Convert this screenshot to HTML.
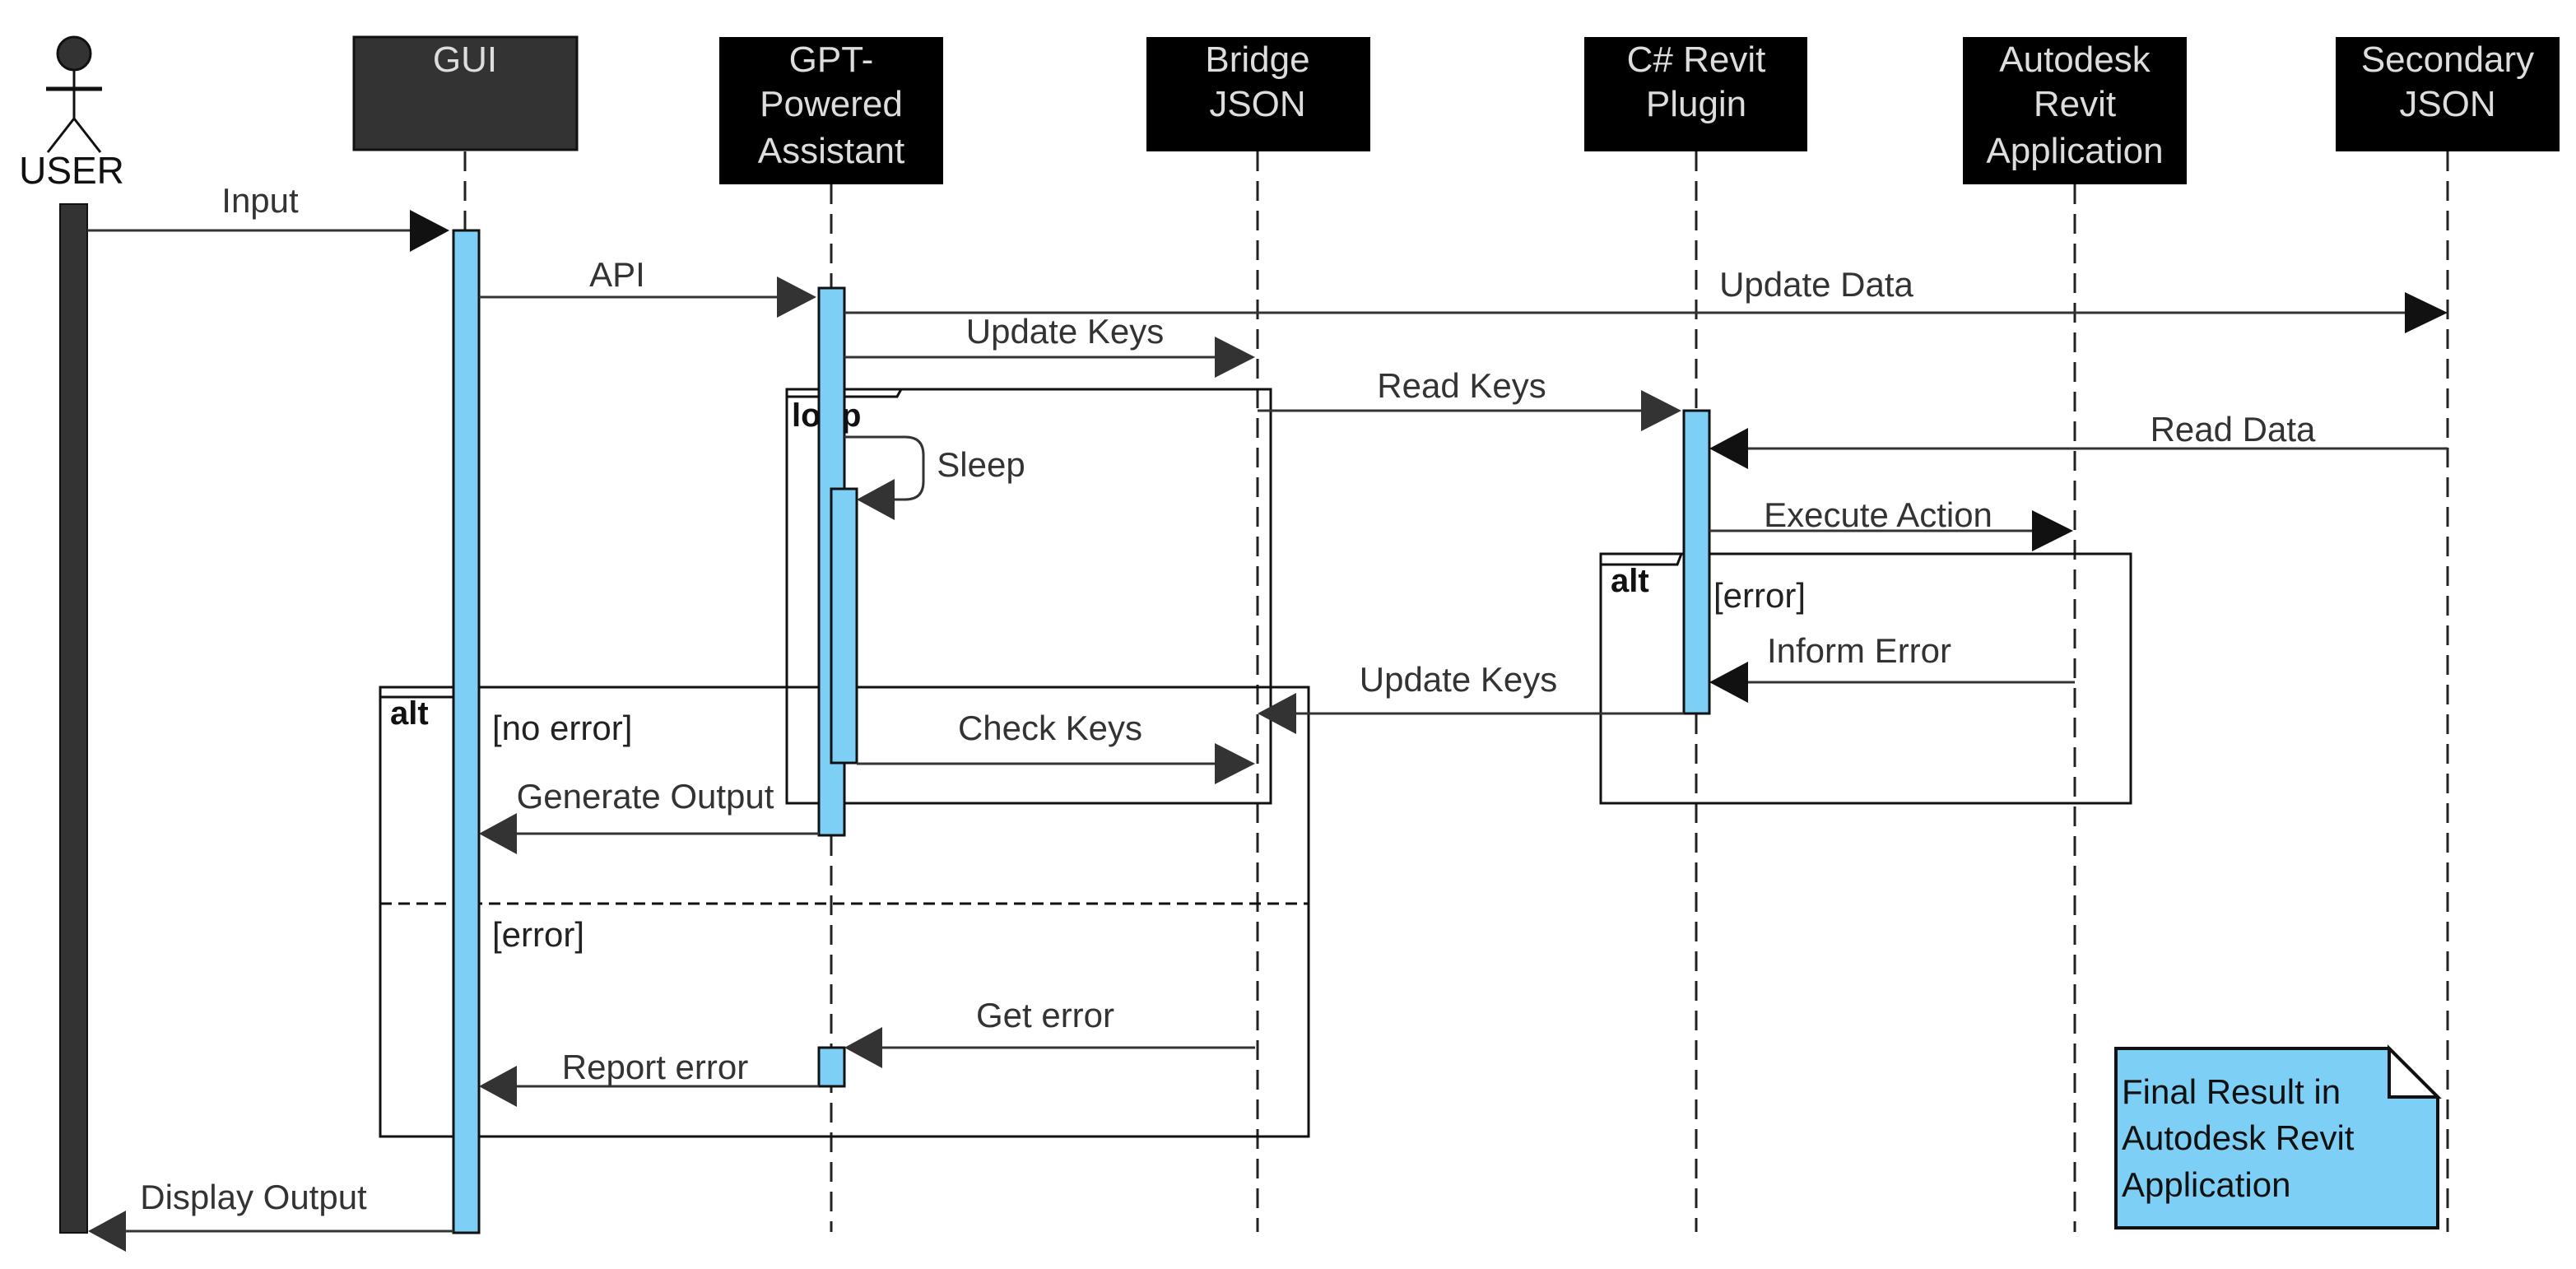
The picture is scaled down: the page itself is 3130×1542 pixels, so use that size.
<!DOCTYPE html>
<html><head><meta charset="utf-8"><style>
html,body{margin:0;padding:0;background:#fff;}
svg{display:block;}
text{font-family:"Liberation Sans",sans-serif;}
</style></head><body>
<svg width="3130" height="1542" viewBox="0 0 3130 1542" xmlns="http://www.w3.org/2000/svg">
<rect width="3130" height="1542" fill="#fff"/>
<!-- lifelines -->
<g stroke="#222" stroke-width="3" stroke-dasharray="24,12" fill="none">
<line x1="565" y1="184" x2="565" y2="1497"/>
<line x1="1010" y1="224" x2="1010" y2="1497"/>
<line x1="1528" y1="184" x2="1528" y2="1497"/>
<line x1="2061" y1="184" x2="2061" y2="1497"/>
<line x1="2521" y1="224" x2="2521" y2="1497"/>
<line x1="2974" y1="184" x2="2974" y2="1497"/>
</g>
<!-- actor -->
<g stroke="#111" stroke-width="3" fill="none">
<circle cx="90" cy="65" r="20" fill="#333"/>
<line x1="90" y1="86" x2="90" y2="144"/>
<line x1="56" y1="108" x2="124" y2="108" stroke-width="5"/>
<line x1="90" y1="144" x2="58" y2="185"/>
<line x1="90" y1="144" x2="122" y2="185"/>
</g>
<text x="87" y="223" font-size="46" text-anchor="middle" fill="#111">USER</text>
<!-- participant boxes -->
<rect x="430" y="45" width="271" height="137" fill="#333" stroke="#111" stroke-width="3"/>
<text x="565" y="87" font-size="44" text-anchor="middle" fill="#ddd">GUI</text>
<g fill="#000">
<rect x="874" y="45" width="272" height="179"/>
<rect x="1393" y="45" width="272" height="139"/>
<rect x="1925" y="45" width="271" height="139"/>
<rect x="2385" y="45" width="272" height="179"/>
<rect x="2838" y="45" width="272" height="139"/>
</g>
<g font-size="44" text-anchor="middle" fill="#ddd">
<text x="1010" y="87">GPT-</text><text x="1010" y="141">Powered</text><text x="1010" y="198">Assistant</text>
<text x="1528" y="87">Bridge</text><text x="1528" y="141">JSON</text>
<text x="2061" y="87">C# Revit</text><text x="2061" y="141">Plugin</text>
<text x="2521" y="87">Autodesk</text><text x="2521" y="141">Revit</text><text x="2521" y="198">Application</text>
<text x="2974" y="87">Secondary</text><text x="2974" y="141">JSON</text>
</g>
<!-- frames -->
<g fill="none" stroke="#111" stroke-width="3">
<rect x="956" y="473" width="588" height="503"/>
<path d="M956 482 H1090 L1095 473"/>
<rect x="462" y="835" width="1128" height="546"/>
<path d="M462 847 H554 L559 835"/>
<line x1="462" y1="1098" x2="1590" y2="1098" stroke-dasharray="14,8"/>
<rect x="1945" y="673" width="644" height="303"/>
<path d="M1945 686 H2038 L2043 673"/>
</g>
<g font-size="40" font-weight="bold" fill="#111">
<text x="962" y="518">loop</text>
<text x="474" y="880">alt</text>
<text x="1957" y="719">alt</text>
</g>
<!-- activations -->
<rect x="73" y="248" width="33" height="1250" fill="#333" stroke="#111" stroke-width="2"/>
<g fill="#7dcff5" stroke="#111" stroke-width="3">
<rect x="551" y="280" width="31" height="1218"/>
<rect x="995" y="350" width="31" height="665"/>
<rect x="1010" y="594" width="31" height="333"/>
<rect x="995" y="1273" width="31" height="47"/>
<rect x="2046" y="499" width="31" height="368"/>
</g>
<!-- messages -->
<g stroke="#333" stroke-width="3" fill="none">
<line x1="106" y1="280" x2="500" y2="280"/>
<line x1="582" y1="361" x2="946" y2="361"/>
<line x1="1026" y1="380" x2="2924" y2="380"/>
<line x1="1026" y1="434" x2="1478" y2="434"/>
<line x1="1528" y1="499" x2="1996" y2="499"/>
<path d="M1026 531 H1100 Q1122 531 1122 553 V585 Q1122 607 1100 607 H1085"/>
<line x1="2974" y1="545" x2="2122" y2="545"/>
<line x1="2077" y1="645" x2="2471" y2="645"/>
<line x1="2521" y1="829" x2="2122" y2="829"/>
<line x1="2046" y1="867" x2="1573" y2="867"/>
<line x1="1041" y1="928" x2="1478" y2="928"/>
<line x1="995" y1="1013" x2="628" y2="1013"/>
<line x1="1525" y1="1273" x2="1072" y2="1273"/>
<line x1="995" y1="1320" x2="628" y2="1320"/>
<line x1="551" y1="1496" x2="150" y2="1496"/>
</g>
<g fill="#333">
<polygon points="498,255 546,280 498,306" fill="#111"/>
<polygon points="944,336 992,361 944,386"/>
<polygon points="2922,355 2974,380 2922,405" fill="#111"/>
<polygon points="1476,409 1525,434 1476,459"/>
<polygon points="1994,474 2043,499 1994,524"/>
<polygon points="1087,582 1041,607 1087,632"/>
<polygon points="2124,520 2077,545 2124,570" fill="#111"/>
<polygon points="2469,620 2519,645 2469,670" fill="#111"/>
<polygon points="2124,804 2077,829 2124,854" fill="#111"/>
<polygon points="1575,842 1528,867 1575,892"/>
<polygon points="1476,903 1525,928 1476,953"/>
<polygon points="628,988 582,1013 628,1038"/>
<polygon points="1072,1248 1026,1273 1072,1298"/>
<polygon points="628,1295 582,1320 628,1345"/>
<polygon points="153,1471 107,1496 153,1521"/>
</g>
<g font-size="42" text-anchor="middle" fill="#333">
<text x="316" y="258">Input</text>
<text x="750" y="348">API</text>
<text x="2207" y="360">Update Data</text>
<text x="1294" y="417">Update Keys</text>
<text x="1776" y="483">Read Keys</text>
<text x="1192" y="579">Sleep</text>
<text x="2713" y="536">Read Data</text>
<text x="2282" y="640">Execute Action</text>
<text x="2259" y="805">Inform Error</text>
<text x="1772" y="840">Update Keys</text>
<text x="1276" y="899">Check Keys</text>
<text x="784" y="982">Generate Output</text>
<text x="1270" y="1248">Get error</text>
<text x="796" y="1311">Report error</text>
<text x="308" y="1469">Display Output</text>
</g>
<g font-size="42" fill="#222">
<text x="598" y="899">[no error]</text>
<text x="598" y="1150">[error]</text>
<text x="2082" y="738">[error]</text>
</g>
<!-- note -->
<path d="M2571 1274 H2903 L2962 1333 V1492 H2571 Z" fill="#7dcff5" stroke="#111" stroke-width="4"/>
<path d="M2903 1274 V1333 H2962 Z" fill="#fff" stroke="#111" stroke-width="4"/>
<g font-size="42" fill="#111">
<text x="2578" y="1341">Final Result in</text>
<text x="2578" y="1397">Autodesk Revit</text>
<text x="2578" y="1454">Application</text>
</g>
</svg>
</body></html>
